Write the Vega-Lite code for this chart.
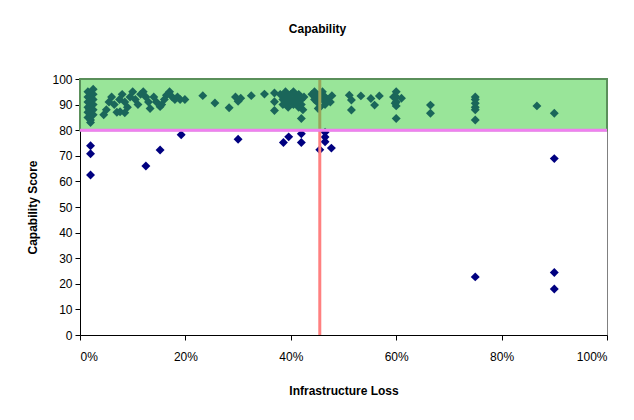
{
  "$schema": "https://vega.github.io/schema/vega-lite/v6.json",
  "width": 527,
  "height": 256,
  "autosize": "none",
  "padding": {"left": 80, "top": 79, "right": 27, "bottom": 85},
  "background": "white",
  "title": {"text": "Capability", "font": "Liberation Sans", "fontSize": 12, "fontWeight": "bold", "anchor": "middle", "dx": -26, "offset": 37, "color": "black"},
  "config": {
    "view": {"stroke": "#808080", "strokeWidth": 1},
    "axis": {"grid": false, "domainColor": "black", "tickColor": "black", "tickSize": 5, "labelFont": "Liberation Sans", "labelFontSize": 12, "labelColor": "black", "labelOverlap": false, "titleFont": "Liberation Sans", "titleFontSize": 12, "titleFontWeight": "bold", "titleColor": "black"}
  },
  "datasets": {
    "points": [
      {"loss": 1.5, "score": 95}, {"loss": 1.5, "score": 93}, {"loss": 1.5, "score": 91}, {"loss": 1.5, "score": 89}, {"loss": 1.5, "score": 87}, {"loss": 1.5, "score": 85},
      {"loss": 2.5, "score": 96}, {"loss": 2.5, "score": 94}, {"loss": 2.5, "score": 92}, {"loss": 2.5, "score": 90}, {"loss": 2.5, "score": 88}, {"loss": 2.5, "score": 86},
      {"loss": 2, "score": 84}, {"loss": 2, "score": 83}, {"loss": 2, "score": 92}, {"loss": 2, "score": 90}, {"loss": 1.8, "score": 88},
      {"loss": 4.5, "score": 86}, {"loss": 5, "score": 88}, {"loss": 5.5, "score": 91}, {"loss": 6, "score": 93}, {"loss": 6.5, "score": 90}, {"loss": 7, "score": 87},
      {"loss": 7.5, "score": 92}, {"loss": 7.6, "score": 87.2}, {"loss": 8, "score": 94}, {"loss": 8.5, "score": 86.8}, {"loss": 8.5, "score": 91}, {"loss": 9, "score": 89},
      {"loss": 9.5, "score": 93}, {"loss": 10, "score": 95}, {"loss": 10.5, "score": 92}, {"loss": 11, "score": 90}, {"loss": 11.5, "score": 94},
      {"loss": 12, "score": 95}, {"loss": 12.5, "score": 93}, {"loss": 13, "score": 91}, {"loss": 13.3, "score": 88.5}, {"loss": 14, "score": 93},
      {"loss": 14.5, "score": 91}, {"loss": 15.2, "score": 89.2}, {"loss": 15.5, "score": 90}, {"loss": 16, "score": 92}, {"loss": 16.4, "score": 93.7},
      {"loss": 17, "score": 95}, {"loss": 17.5, "score": 93}, {"loss": 18, "score": 92}, {"loss": 18.5, "score": 93}, {"loss": 19, "score": 92}, {"loss": 19.9, "score": 92},
      {"loss": 23.3, "score": 93.5}, {"loss": 25.6, "score": 90.6}, {"loss": 28.3, "score": 88.8}, {"loss": 29.5, "score": 93}, {"loss": 30, "score": 91.3}, {"loss": 30.5, "score": 92.5},
      {"loss": 32.5, "score": 93.5}, {"loss": 35, "score": 94.1}, {"loss": 36.9, "score": 94.5}, {"loss": 36.9, "score": 91.1}, {"loss": 36.9, "score": 87.7},
      {"loss": 38, "score": 94}, {"loss": 38.5, "score": 92}, {"loss": 38.5, "score": 90}, {"loss": 39, "score": 95}, {"loss": 39, "score": 93}, {"loss": 39.5, "score": 91},
      {"loss": 39.5, "score": 89}, {"loss": 40, "score": 94}, {"loss": 40, "score": 92}, {"loss": 40.5, "score": 90}, {"loss": 40.5, "score": 95}, {"loss": 41, "score": 93},
      {"loss": 41, "score": 91}, {"loss": 41.5, "score": 89}, {"loss": 41.5, "score": 94}, {"loss": 42, "score": 92}, {"loss": 42, "score": 90}, {"loss": 42.5, "score": 93},
      {"loss": 42.3, "score": 88}, {"loss": 42, "score": 84.6},
      {"loss": 44, "score": 94}, {"loss": 44.5, "score": 92}, {"loss": 44.5, "score": 95}, {"loss": 45, "score": 93}, {"loss": 45, "score": 91}, {"loss": 45.5, "score": 89},
      {"loss": 45.5, "score": 94}, {"loss": 46, "score": 92}, {"loss": 46, "score": 95}, {"loss": 46.5, "score": 90}, {"loss": 46.5, "score": 93}, {"loss": 47, "score": 92},
      {"loss": 47.5, "score": 91}, {"loss": 47.8, "score": 93.5}, {"loss": 45.2, "score": 88.5},
      {"loss": 51.1, "score": 93.7}, {"loss": 51.5, "score": 91.8}, {"loss": 51.5, "score": 87.9}, {"loss": 53.3, "score": 93.4}, {"loss": 55.2, "score": 92.4},
      {"loss": 55.9, "score": 89.8}, {"loss": 56.8, "score": 93.4},
      {"loss": 59.5, "score": 93}, {"loss": 60, "score": 95}, {"loss": 60, "score": 93}, {"loss": 60, "score": 91}, {"loss": 60, "score": 89.5}, {"loss": 61, "score": 92.5},
      {"loss": 59.8, "score": 90.5}, {"loss": 60, "score": 84.6}, {"loss": 66.5, "score": 89.8}, {"loss": 66.5, "score": 86.6},
      {"loss": 75, "score": 93}, {"loss": 75, "score": 92}, {"loss": 75, "score": 90.5}, {"loss": 75, "score": 89}, {"loss": 75, "score": 88}, {"loss": 75, "score": 84},
      {"loss": 86.7, "score": 89.5}, {"loss": 90, "score": 86.6},
      {"loss": 2, "score": 73.9}, {"loss": 2, "score": 70.8}, {"loss": 2, "score": 62.5}, {"loss": 12.5, "score": 66}, {"loss": 15.2, "score": 72.3},
      {"loss": 19.2, "score": 78.2}, {"loss": 30, "score": 76.5}, {"loss": 38.6, "score": 75.2}, {"loss": 39.6, "score": 77.4}, {"loss": 42, "score": 78.6},
      {"loss": 42, "score": 75.2}, {"loss": 45.5, "score": 72.4}, {"loss": 46.5, "score": 79.2}, {"loss": 46.5, "score": 77.3}, {"loss": 46.5, "score": 75.5},
      {"loss": 47.7, "score": 73}, {"loss": 75, "score": 22.7}, {"loss": 90, "score": 68.9}, {"loss": 90, "score": 24.4}, {"loss": 90, "score": 18}
    ]
  },
  "layer": [
    {
      "data": {"name": "points"},
      "mark": {"type": "point", "shape": "diamond", "filled": true, "size": 80, "color": "#000080", "opacity": 1},
      "encoding": {
        "x": {"field": "loss", "type": "quantitative", "scale": {"domain": [0, 100], "nice": false}, "axis": {"values": [0, 20, 40, 60, 80, 100], "labelExpr": "datum.value + '%'", "title": "Infrastructure Loss", "labelPadding": 11, "titlePadding": 23, "labelFlush": true}},
        "y": {"field": "score", "type": "quantitative", "scale": {"domain": [0, 100], "nice": false}, "axis": {"values": [0, 10, 20, 30, 40, 50, 60, 70, 80, 90, 100], "title": "Capability Score", "labelPadding": 3, "titlePadding": 12, "labelFlush": false, "labelOverlap": false}}
      }
    },
    {
      "data": {"values": [{"loss": 45.5, "low": 0, "high": 100}]},
      "mark": {"type": "rule", "color": "#ff8080", "strokeWidth": 3},
      "encoding": {
        "x": {"field": "loss", "type": "quantitative", "axis": {"values": [0, 20, 40, 60, 80, 100], "labelExpr": "datum.value + '%'", "title": "Infrastructure Loss", "labelPadding": 11, "titlePadding": 23, "labelFlush": true}},
        "y": {"field": "low", "type": "quantitative", "axis": {"values": [0, 10, 20, 30, 40, 50, 60, 70, 80, 90, 100], "title": "Capability Score", "labelPadding": 3, "titlePadding": 12, "labelFlush": false, "labelOverlap": false}},
        "y2": {"field": "high"}
      }
    },
    {
      "data": {"values": [{"x0": 0, "x1": 100, "y0": 80, "y1": 100}]},
      "mark": {"type": "rect", "fill": "#33cc33", "fillOpacity": 0.5, "stroke": "#5a8f5a", "strokeWidth": 2},
      "encoding": {
        "x": {"field": "x0", "type": "quantitative", "axis": {"values": [0, 20, 40, 60, 80, 100], "labelExpr": "datum.value + '%'", "title": "Infrastructure Loss", "labelPadding": 11, "titlePadding": 23, "labelFlush": true}},
        "x2": {"field": "x1"},
        "y": {"field": "y0", "type": "quantitative", "axis": {"values": [0, 10, 20, 30, 40, 50, 60, 70, 80, 90, 100], "title": "Capability Score", "labelPadding": 3, "titlePadding": 12, "labelFlush": false, "labelOverlap": false}},
        "y2": {"field": "y1"}
      }
    },
    {
      "data": {"values": [{"x0": 0, "x1": 100, "score": 80}]},
      "mark": {"type": "rule", "color": "#f080f0", "strokeWidth": 3},
      "encoding": {
        "x": {"field": "x0", "type": "quantitative", "axis": {"values": [0, 20, 40, 60, 80, 100], "labelExpr": "datum.value + '%'", "title": "Infrastructure Loss", "labelPadding": 11, "titlePadding": 23, "labelFlush": true}},
        "x2": {"field": "x1"},
        "y": {"field": "score", "type": "quantitative", "axis": {"values": [0, 10, 20, 30, 40, 50, 60, 70, 80, 90, 100], "title": "Capability Score", "labelPadding": 3, "titlePadding": 12, "labelFlush": false, "labelOverlap": false}}
      }
    }
  ]
}
